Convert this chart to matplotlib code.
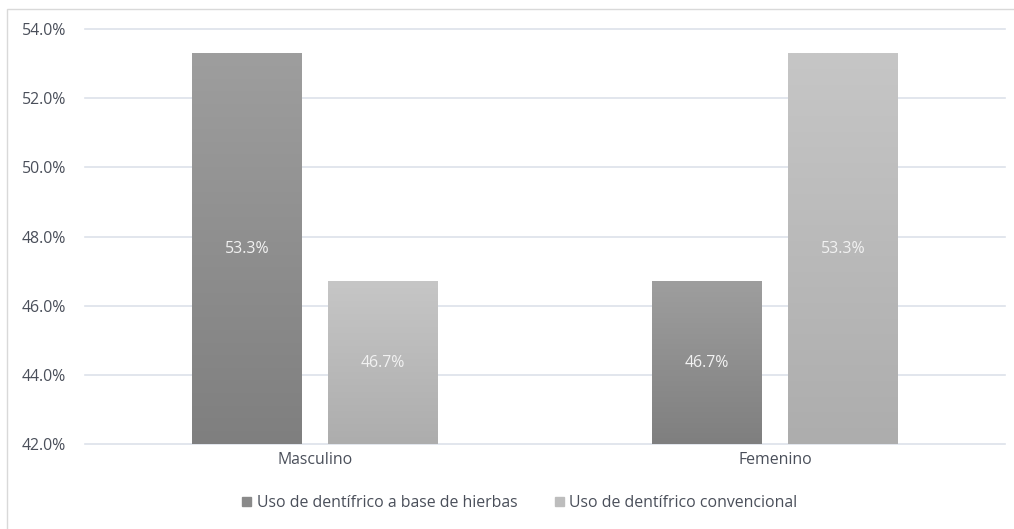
import matplotlib
matplotlib.use("Agg")
import matplotlib.pyplot as plt
import numpy as np
from matplotlib.patches import Rectangle
from matplotlib.ticker import FuncFormatter

categories = ["Masculino", "Femenino"]
series_names = ["Uso de dentífrico a base de hierbas", "Uso de dentífrico convencional"]
herbal = [53.3, 46.7]
conventional = [46.7, 53.3]
yticks = [42, 44, 46, 48, 50, 52, 54]

plt.rcParams['font.family'] = ['Open Sans', 'DejaVu Sans']
FS = 11.4

W, H = 1014, 529
fig = plt.figure(figsize=(W/100, H/100), dpi=100)
fig.patch.set_facecolor('white')
# outer chart border
fig.add_artist(Rectangle((7/W, -0.01), 1.02, 1 - 9/H + 0.01, transform=fig.transFigure,
                         fill=False, edgecolor='#d9d9d9', linewidth=1.0))

ax = fig.add_axes([85/W, 1 - 444/H, 920/W, (444-29)/H])
ax.set_xlim(-0.5, 1.5)
ax.set_ylim(42, 54)
ax.set_yticks(yticks)
ax.yaxis.set_major_formatter(FuncFormatter(lambda v, p: f"{v:.1f}%"))
ax.grid(axis='y', color='#dde2ea', linewidth=1.2)
for gl in ax.get_ygridlines():
    gl.set_clip_on(False)
ax.set_axisbelow(True)
for s in ax.spines.values():
    s.set_visible(False)
ax.tick_params(axis='both', length=0, labelsize=FS, colors='#4a4f5a')
ax.tick_params(axis='y', pad=13.5)
ax.tick_params(axis='x', pad=6)
x = np.arange(len(categories))
ax.set_xticks(x)
ax.set_xticklabels(categories)

width = 0.239
off = 0.148
grads = [((0x7f, 0x7f, 0x7f), (0x9e, 0x9e, 0x9e)), ((0xad, 0xad, 0xad), (0xc6, 0xc6, 0xc6))]
legend_colors = ['#8a8a8a', '#bdbdbd']
for i, (vals, sgn) in enumerate([(herbal, -1), (conventional, 1)]):
    bars = ax.bar(x + sgn*off, [v - 42 for v in vals], width, bottom=42,
                  color='none', edgecolor='none', label=series_names[i])
    lo, hi = np.array(grads[i][0])/255, np.array(grads[i][1])/255
    t = np.linspace(0, 1, 256)[:, None]
    img = lo[None, :] * (1 - t) + hi[None, :] * t
    img = img[:, None, :]
    for b, v in zip(bars, vals):
        x0 = b.get_x(); x1 = x0 + b.get_width()
        im = ax.imshow(img, extent=(x0, x1, 42, v), origin='lower', aspect='auto', zorder=2)
        im.set_clip_path(b)
        ax.text(x0 + b.get_width()/2, (42 + v)/2, f"{v:.1f}%", ha='center', va='center',
                color='#f2f2f2', fontsize=FS, zorder=3)
ax.set_xlim(-0.5, 1.5)
ax.set_ylim(42, 54)

handles = [Rectangle((0, 0), 1, 1, color=c) for c in legend_colors]
fig.legend(handles, series_names, loc='center', bbox_to_anchor=(520/W, 1 - 503/H), ncol=2,
           frameon=False, fontsize=FS, handlelength=0.55, handleheight=0.55,
           handletextpad=0.35, columnspacing=2.4, labelcolor='#4a4f5a')

fig.savefig("out.png", dpi=100)
